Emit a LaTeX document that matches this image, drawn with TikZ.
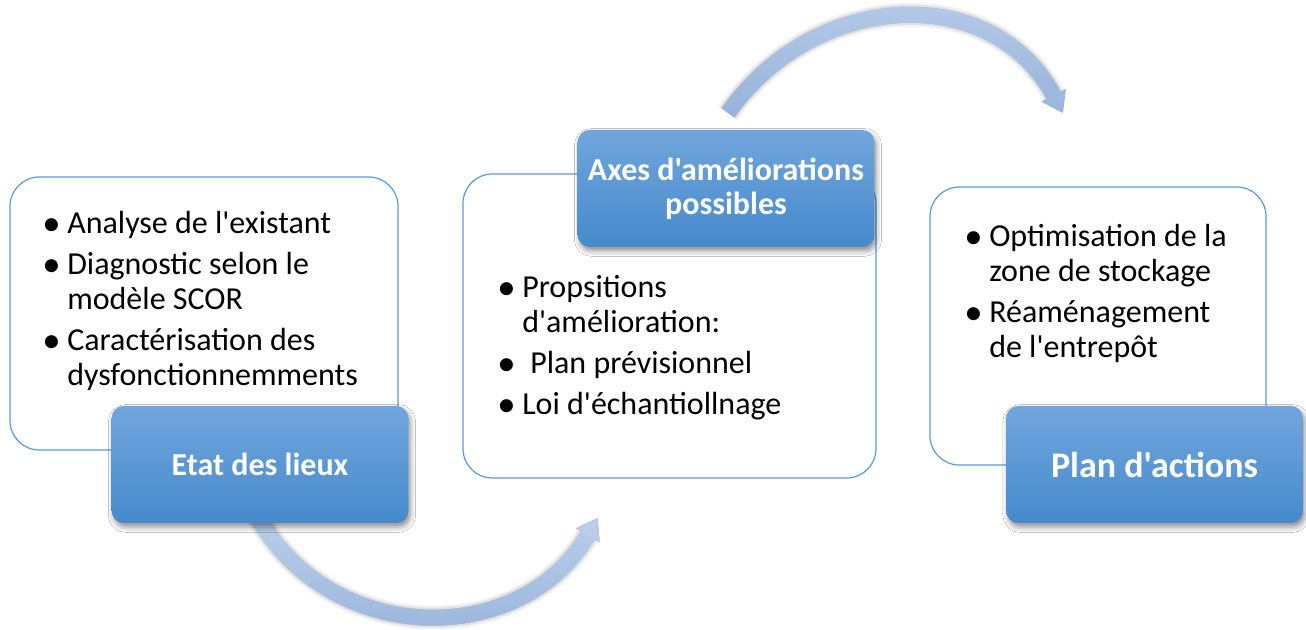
\documentclass[tikz,border=0pt]{standalone}
\usepackage{fontspec}
\newfontfamily\calib{Carlito}
\usetikzlibrary{arrows.meta,shadows.blur,fadings}

\definecolor{frameblue}{RGB}{91,155,213}
\definecolor{labtop}{RGB}{113,166,220}
\definecolor{labbot}{RGB}{70,138,204}
\definecolor{arrlight}{RGB}{188,208,236}
\definecolor{arrdark}{RGB}{150,178,218}

\tikzfading[name=topsolid, top color=transparent!0, bottom color=transparent!100]

% one bullet entry with hanging indent
\newcommand\bigbullet{\raisebox{-0.05em}{\scalebox{1.15}{\textbullet}}}
\newcommand\pointitem[1]{\par\noindent\hangindent=18.75pt\hangafter=1\makebox[18.75pt][l]{\bigbullet}#1\par}
\newcommand\bodyfont{\calib\fontsize{24}{26.25}\selectfont\parskip=4.5pt}

\begin{document}
\begin{tikzpicture}[x=0.75pt,y=0.75pt,
  panel/.style={draw=frameblue, line width=0.9pt, fill=white, rounded corners=22pt, inner sep=0pt},
  stage/.style={rounded corners=9pt, top color=labtop, bottom color=labbot,
    blur shadow={shadow xshift=1.5pt, shadow yshift=-3pt, shadow blur radius=4pt, shadow opacity=45},
    text=white, font=\calib\fontsize{24}{25.5}\selectfont\bfseries, align=center,
    minimum width=222.5pt, minimum height=87.75pt, inner sep=0pt},
  bodytext/.style={anchor=base west, inner sep=0pt, text=black},
  flow/.style={line width=12pt, -{Triangle[width=19.5pt,length=15pt]}},
  flowshadow/.style={flow, black, opacity=#1, shift={(2,-4)}},
]
\useasboundingbox (0,0) rectangle (1306,630);
\fill[white] (0,0) rectangle (1306,630);

% text panels
\node[panel, minimum width=291pt, minimum height=204.75pt] (p1) at (204,316.5) {};
\node[panel, minimum width=309.75pt, minimum height=228pt] (p2) at (669.5,304) {};
\node[panel, minimum width=252pt, minimum height=208.5pt] (p3) at (1098,304) {};

% panel contents
\node[bodytext] (t1) at (42,396) {\begin{minipage}[t]{280pt}\bodyfont
  \pointitem{Analyse de l'existant}
  \pointitem{Diagnostic selon le\newline modèle SCOR}
  \pointitem{Caractérisation des\newline dysfonctionnemments}
\end{minipage}};
\node[bodytext] (t2) at (497,332) {\begin{minipage}[t]{280pt}\bodyfont
  \pointitem{Propsitions\newline d'amélioration:}
  \pointitem{\hspace{6pt}Plan prévisionnel}
  \pointitem{Loi d'échantiollnage}
\end{minipage}};
\node[bodytext] (t3) at (964,383) {\begin{minipage}[t]{230pt}\bodyfont
  \pointitem{Optimisation de la\newline zone de stockage}
  \pointitem{Réaménagement\newline de l'entrepôt}
\end{minipage}};

% curved flow arrows
\coordinate (a1s) at (258.3,112);
\coordinate (a1e) at (597.7,112);
\coordinate (a2s) at (728,517);
\coordinate (a2e) at (1063,517);

\foreach \o/\w in {0.05/18pt,0.07/15pt,0.09/12pt}{
  \draw[flowshadow=\o, line width=\w] (a1s) to[out=-60,in=-120,looseness=1.135] (a1e);
  \draw[flowshadow=\o, line width=\w] (a2s) to[out=55,in=118,looseness=1.15] (a2e);
}
\draw[flow, arrdark] (a1s) to[out=-60,in=-120,looseness=1.135] (a1e);
\draw[flow, arrlight, path fading=topsolid] (a1s) to[out=-60,in=-120,looseness=1.135] (a1e);
\draw[flow, arrdark] (a2s) to[out=55,in=118,looseness=1.15] (a2e);
\draw[flow, arrlight, path fading=topsolid] (a2s) to[out=55,in=118,looseness=1.15] (a2e);

% stage labels
\node[stage] (l1) at (260,165.5) {Etat des lieux};
\node[stage] (l2) at (726,441.5) {Axes d'améliorations\\possibles};
\node[stage, font=\calib\fontsize{27}{29}\selectfont\bfseries] (l3) at (1154.5,165.5) {Plan d'actions};
\end{tikzpicture}
\end{document}
